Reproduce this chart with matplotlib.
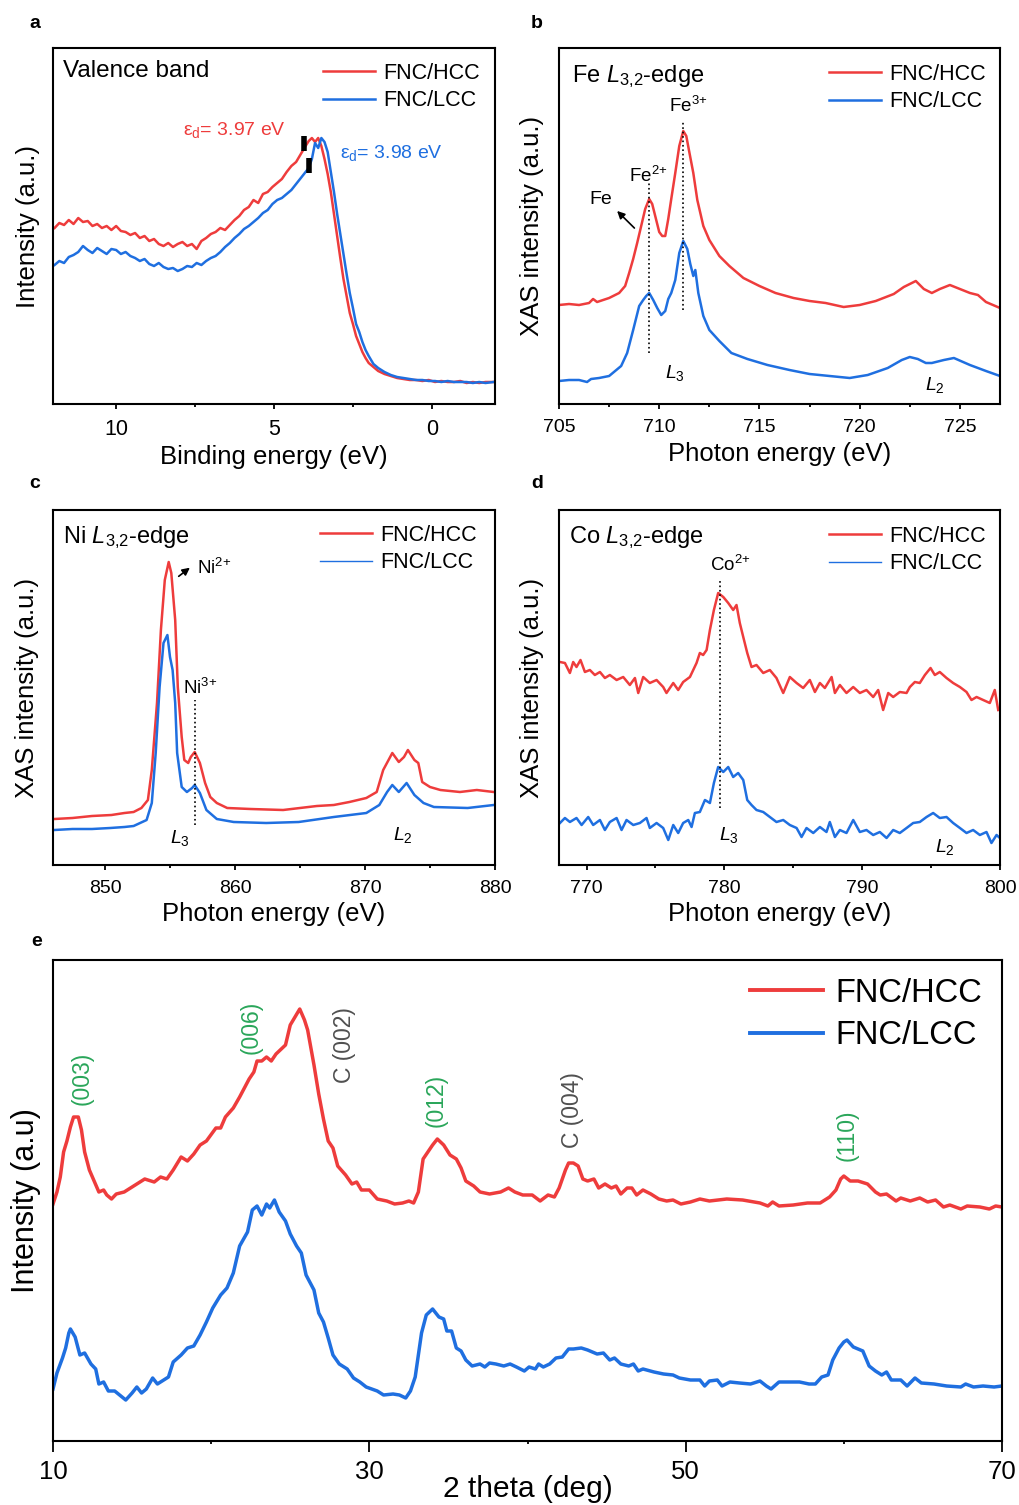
import matplotlib
matplotlib.use('Agg')
import matplotlib.pyplot as plt
from matplotlib.lines import Line2D

plt.rcParams['font.family'] = ['Liberation Sans', 'DejaVu Sans']
plt.rcParams['mathtext.fontset'] = 'custom'
plt.rcParams['mathtext.rm'] = 'Liberation Sans'
plt.rcParams['mathtext.it'] = 'Liberation Sans:italic'
plt.rcParams['mathtext.bf'] = 'Liberation Sans:bold'

RED = '#ee3c3c'
BLUE = '#1f6fe0'
GREEN = '#2aa65a'
GREY = '#505050'
labels = ['FNC/HCC', 'FNC/LCC']

# ---- a: valence band (binding energy, eV) ----
va_x = [11.95, 11.8, 11.65, 11.5, 11.35, 11.2, 11.05, 10.9, 10.75, 10.6,
        10.45, 10.3, 10.15, 10.0, 9.85, 9.7, 9.55, 9.4, 9.25, 9.1,
        8.95, 8.8, 8.65, 8.5, 8.35, 8.2, 8.05, 7.9, 7.75, 7.6,
        7.45, 7.3, 7.15, 7.0, 6.85, 6.7, 6.55, 6.4, 6.25, 6.1,
        5.95, 5.8, 5.65, 5.5, 5.35, 5.2, 5.05, 4.9, 4.75, 4.6,
        4.45, 4.3, 4.15, 4.0, 3.9, 3.8, 3.7, 3.6, 3.5, 3.4,
        3.3, 3.2, 3.1, 3.0, 2.9, 2.8, 2.7, 2.6, 2.5, 2.4,
        2.3, 2.2, 2.1, 2.0, 1.85, 1.7, 1.5, 1.3, 1.1, 0.9,
        0.7, 0.5, 0.3, 0.1, -0.1, -0.3, -0.5, -0.7, -0.9, -1.1,
        -1.3, -1.5, -1.7, -1.95]
va_hcc = [176, 181, 179, 184, 180, 186, 182, 183, 178, 180,
          176, 178, 174, 178, 173, 172, 169, 171, 166, 168,
          163, 165, 160, 158, 161, 157, 160, 162, 158, 160,
          155, 163, 166, 170, 172, 176, 174, 179, 184, 188,
          194, 197, 204, 201, 210, 212, 217, 221, 225, 232,
          238, 242, 250, 258, 263, 266, 262, 266, 258, 245,
          230, 212, 190, 168, 146, 125, 108, 91, 80, 68,
          60, 52, 46, 41, 37, 33, 30, 28, 26, 25,
          24, 24, 23, 24, 22, 23, 22, 22, 23, 21,
          22, 21, 22, 22]
va_lcc = [139, 143, 141, 147, 149, 152, 158, 154, 151, 156,
          153, 150, 155, 154, 150, 152, 148, 146, 143, 145,
          140, 138, 141, 137, 135, 136, 133, 135, 138, 137,
          141, 139, 143, 146, 148, 152, 157, 161, 166, 170,
          175, 178, 182, 186, 191, 194, 200, 204, 206, 210,
          214, 220, 226, 232, 236, 245, 261, 256, 266, 262,
          252, 232, 212, 190, 170, 150, 130, 111, 96, 80,
          72, 62, 54, 48, 40, 36, 32, 29, 27, 26,
          25, 24, 24, 23, 23, 22, 23, 22, 22, 22,
          21, 22, 21, 22]
ed_marks = [(4.05, 253, 268), (3.9, 231, 246)]  # d-band centre markers

# ---- b: Fe L-edge ----
fe_hcc = [(705.0, 99), (705.5, 100), (706.0, 99), (706.5, 101), (706.7, 105), (706.9, 102),
          (707.5, 106), (708.0, 111), (708.3, 118), (708.5, 131), (708.7, 145), (708.9, 161),
          (709.1, 178), (709.3, 195), (709.5, 205), (709.65, 200), (709.8, 188), (710.0, 172),
          (710.15, 168), (710.3, 168), (710.45, 185), (710.6, 205), (710.8, 231), (711.0, 258),
          (711.2, 273), (711.35, 268), (711.5, 252), (711.7, 231), (711.9, 204), (712.2, 178),
          (712.5, 164), (713.0, 148), (713.5, 138), (714.2, 126), (715.0, 118), (715.8, 111),
          (716.7, 106), (717.5, 103), (718.3, 101), (719.2, 97), (720.0, 99), (720.8, 103),
          (721.7, 110), (722.2, 117), (722.6, 121), (722.8, 123), (723.2, 115), (723.6, 111),
          (724.0, 115), (724.5, 119), (725.0, 115), (725.5, 111), (725.9, 109), (726.3, 102),
          (727.0, 96)]
fe_lcc = [(705.0, 23), (705.5, 24), (706.0, 24), (706.4, 22), (706.6, 25), (707.0, 26),
          (707.5, 28), (707.8, 33), (708.1, 38), (708.4, 51), (708.7, 74), (709.0, 98),
          (709.2, 104), (709.35, 108), (709.5, 111), (709.7, 104), (709.9, 96), (710.1, 89),
          (710.3, 93), (710.45, 105), (710.6, 111), (710.8, 124), (711.0, 151), (711.2, 163),
          (711.4, 155), (711.55, 140), (711.7, 128), (711.8, 134), (711.95, 111), (712.2, 88),
          (712.5, 74), (713.0, 63), (713.6, 51), (714.4, 45), (715.4, 39), (716.5, 34),
          (717.5, 30), (718.5, 28), (719.5, 26), (720.4, 29), (721.4, 36), (722.1, 44),
          (722.5, 47), (722.9, 45), (723.3, 41), (723.6, 41), (724.2, 44), (724.7, 46),
          (725.5, 39), (726.3, 33), (727.0, 28)]

# ---- c: Ni L-edge ----
ni_hcc = [(846.1, 46), (847.5, 47), (849.0, 49), (850.5, 50), (851.5, 52), (852.2, 53),
          (852.8, 57), (853.3, 65), (853.6, 95), (854.0, 162), (854.3, 235), (854.6, 285),
          (854.9, 303), (855.1, 292), (855.4, 245), (855.6, 178), (855.9, 128), (856.1, 105),
          (856.4, 102), (856.6, 108), (856.9, 113), (857.3, 102), (857.7, 82), (858.1, 68),
          (858.6, 62), (859.4, 57), (861.2, 56), (863.7, 55), (866.3, 59), (867.6, 60),
          (868.8, 63), (870.1, 67), (870.9, 73), (871.4, 95), (872.1, 112), (872.6, 103),
          (873.0, 108), (873.3, 115), (873.8, 105), (874.1, 102), (874.4, 83), (875.0, 78),
          (875.8, 75), (877.3, 73), (878.6, 75), (879.9, 73)]
ni_lcc = [(846.1, 35), (847.5, 36), (849.0, 36), (850.4, 37), (851.5, 38), (852.2, 39),
          (853.2, 45), (853.6, 62), (853.9, 112), (854.2, 178), (854.5, 222), (854.8, 230),
          (855.0, 208), (855.2, 195), (855.4, 162), (855.55, 112), (855.9, 78), (856.3, 73),
          (856.7, 77), (856.9, 80), (857.3, 72), (857.8, 55), (858.6, 46), (859.9, 43),
          (862.4, 42), (864.9, 43), (867.6, 48), (870.1, 52), (871.1, 60), (871.7, 73),
          (872.1, 80), (872.6, 73), (873.2, 82), (873.8, 70), (874.5, 62), (875.3, 58),
          (877.9, 57), (879.9, 60)]

# ---- d: Co L-edge ----
co_hcc = [(768.07, 203), (768.43, 202), (768.79, 192), (769.03, 203), (769.27, 198), (769.56, 205),
          (769.88, 193), (770.24, 195), (770.6, 190), (770.97, 193), (771.33, 187), (771.69, 190),
          (772.18, 185), (772.66, 188), (773.14, 180), (773.51, 187), (773.75, 172), (774.11, 188),
          (774.59, 182), (775.08, 185), (775.56, 178), (775.8, 172), (776.29, 182), (776.65, 175),
          (777.01, 183), (777.5, 188), (777.74, 195), (777.98, 202), (778.22, 212), (778.46, 210),
          (778.71, 215), (778.95, 235), (779.24, 255), (779.55, 272), (779.92, 268), (780.28, 262),
          (780.64, 255), (780.88, 260), (781.12, 242), (781.37, 228), (781.66, 212), (781.97, 198),
          (782.33, 200), (782.82, 192), (783.3, 195), (783.78, 187), (784.27, 172), (784.75, 188),
          (785.24, 182), (785.72, 177), (786.2, 185), (786.57, 173), (786.93, 182), (787.29, 177),
          (787.78, 188), (788.02, 172), (788.38, 180), (788.86, 172), (789.35, 178), (789.83, 172),
          (790.31, 175), (790.8, 168), (791.16, 175), (791.52, 155), (791.89, 172), (792.25, 168),
          (792.73, 173), (793.22, 172), (793.46, 178), (793.82, 183), (794.18, 182), (794.55, 190),
          (794.96, 197), (795.27, 190), (795.63, 193), (796.12, 187), (796.6, 182), (797.09, 178),
          (797.57, 173), (797.93, 165), (798.3, 168), (798.78, 165), (799.26, 162), (799.62, 175),
          (799.87, 155)]
co_lcc = [(768.07, 42), (768.43, 47), (768.79, 43), (769.27, 47), (769.64, 40), (770.12, 48),
          (770.48, 40), (770.97, 45), (771.33, 35), (771.69, 43), (772.18, 47), (772.54, 35),
          (772.9, 45), (773.39, 40), (773.87, 42), (774.35, 47), (774.59, 37), (775.08, 42),
          (775.56, 37), (775.93, 25), (776.29, 40), (776.65, 32), (777.01, 42), (777.38, 45),
          (777.62, 38), (777.86, 52), (778.22, 53), (778.59, 65), (778.95, 62), (779.24, 82),
          (779.55, 98), (779.92, 93), (780.28, 98), (780.64, 88), (781.0, 92), (781.37, 85),
          (781.66, 65), (781.97, 60), (782.33, 55), (782.82, 53), (783.3, 48), (783.78, 43),
          (784.27, 45), (784.75, 40), (785.24, 37), (785.6, 28), (785.96, 37), (786.45, 32),
          (786.93, 38), (787.41, 33), (787.65, 43), (788.02, 28), (788.38, 35), (788.86, 32),
          (789.35, 45), (789.83, 33), (790.31, 35), (790.8, 30), (791.28, 33), (791.77, 27),
          (792.25, 35), (792.73, 32), (793.22, 37), (793.7, 42), (794.18, 43), (794.67, 48),
          (795.15, 52), (795.63, 47), (796.12, 48), (796.6, 42), (797.09, 37), (797.57, 32),
          (798.05, 35), (798.54, 30), (799.02, 33), (799.38, 22), (799.75, 30), (799.99, 27)]

# ---- e: XRD ----
xrd_hcc = [(10.0, 237), (10.25, 249), (10.46, 264), (10.67, 289), (10.88, 300), (11.1, 314),
           (11.3, 324), (11.6, 324), (11.8, 311), (12.0, 289), (12.3, 271), (12.6, 260),
           (12.9, 249), (13.2, 251), (13.4, 246), (13.7, 242), (14.0, 247), (14.5, 249),
           (14.9, 253), (15.3, 257), (15.8, 262), (16.4, 259), (16.8, 264), (17.2, 262),
           (17.6, 271), (18.1, 284), (18.5, 280), (18.9, 287), (19.3, 296), (19.7, 300),
           (20.3, 313), (20.6, 313), (20.9, 324), (21.4, 333), (21.8, 344), (22.4, 362),
           (22.7, 369), (22.9, 380), (23.2, 380), (23.5, 384), (23.8, 380), (24.1, 387),
           (24.7, 396), (25.0, 416), (25.3, 424), (25.6, 432), (25.9, 421), (26.1, 411),
           (26.5, 376), (26.8, 347), (27.1, 322), (27.4, 300), (27.7, 293), (28.0, 275),
           (28.5, 266), (28.9, 257), (29.2, 259), (29.5, 251), (30.0, 251), (30.5, 242),
           (31.1, 240), (31.6, 237), (32.1, 238), (32.5, 240), (32.8, 238), (33.1, 249),
           (33.4, 282), (33.7, 289), (34.0, 296), (34.3, 302), (34.7, 296), (35.1, 286),
           (35.5, 282), (35.8, 273), (36.1, 260), (36.6, 255), (37.0, 249), (37.6, 247),
           (38.3, 249), (38.8, 253), (39.2, 249), (39.7, 246), (40.3, 246), (40.8, 240),
           (41.3, 246), (41.7, 244), (42.0, 253), (42.4, 271), (42.6, 278), (42.9, 278),
           (43.2, 275), (43.5, 262), (43.8, 260), (44.2, 262), (44.5, 253), (44.9, 257),
           (45.3, 253), (45.6, 255), (45.9, 247), (46.3, 253), (46.6, 253), (46.9, 246),
           (47.3, 251), (47.8, 247), (48.3, 242), (48.8, 240), (49.2, 241), (49.7, 237),
           (50.3, 239), (50.9, 242), (51.5, 240), (52.6, 242), (53.6, 241), (54.7, 238),
           (55.2, 235), (55.5, 239), (55.9, 235), (56.8, 236), (57.7, 238), (58.5, 238),
           (59.1, 244), (59.5, 251), (59.8, 262), (60.0, 265), (60.4, 260), (60.9, 260),
           (61.5, 257), (62.0, 249), (62.3, 246), (62.7, 247), (63.3, 240), (63.6, 243),
           (64.2, 240), (64.8, 243), (65.3, 239), (65.8, 241), (66.3, 234), (66.7, 236),
           (67.4, 232), (67.8, 235), (68.6, 234), (69.2, 232), (69.6, 235), (70.0, 234)]
xrd_lcc = [(10.0, 52), (10.25, 68), (10.6, 83), (10.8, 93), (11.0, 108), (11.1, 112),
           (11.4, 104), (11.7, 86), (12.0, 88), (12.4, 77), (12.7, 72), (12.9, 57),
           (13.2, 59), (13.5, 50), (13.9, 50), (14.6, 41), (15.0, 48), (15.3, 54),
           (15.6, 48), (15.9, 52), (16.3, 63), (16.6, 57), (17.0, 61), (17.3, 64),
           (17.6, 79), (18.1, 86), (18.5, 93), (18.9, 95), (19.3, 106), (19.7, 119),
           (20.1, 133), (20.6, 146), (21.0, 153), (21.4, 168), (21.8, 195), (22.3, 209),
           (22.6, 231), (22.9, 235), (23.2, 226), (23.5, 237), (23.7, 233), (24.0, 241),
           (24.3, 229), (24.7, 220), (25.0, 207), (25.4, 195), (25.7, 188), (26.0, 166),
           (26.5, 151), (26.8, 128), (27.1, 119), (27.4, 103), (27.7, 86), (28.1, 77),
           (28.6, 72), (29.0, 63), (29.4, 59), (29.8, 54), (30.5, 50), (30.9, 46),
           (31.5, 47), (31.9, 46), (32.3, 43), (32.6, 50), (32.9, 64), (33.1, 86),
           (33.3, 108), (33.6, 126), (34.0, 132), (34.4, 124), (34.7, 122), (34.9, 110),
           (35.2, 110), (35.5, 93), (35.8, 90), (36.1, 81), (36.5, 75), (37.0, 77),
           (37.3, 74), (37.6, 78), (38.0, 77), (38.5, 75), (38.9, 77), (39.3, 74),
           (39.8, 70), (40.1, 74), (40.5, 72), (40.7, 77), (41.0, 74), (41.4, 77),
           (41.8, 83), (42.2, 84), (42.6, 92), (42.9, 92), (43.4, 93), (43.8, 91),
           (44.4, 87), (44.8, 88), (45.2, 81), (45.5, 83), (45.9, 77), (46.4, 75),
           (46.7, 77), (47.0, 70), (47.3, 72), (48.0, 69), (48.6, 67), (49.2, 66),
           (49.6, 63), (50.3, 61), (50.9, 61), (51.2, 55), (51.5, 60), (52.0, 61),
           (52.3, 55), (52.8, 59), (53.4, 58), (54.1, 57), (54.7, 60), (55.1, 55),
           (55.4, 52), (55.9, 59), (56.6, 59), (57.2, 59), (57.8, 57), (58.2, 57),
           (58.6, 64), (59.0, 66), (59.3, 81), (59.7, 93), (60.0, 99), (60.2, 101),
           (60.6, 94), (61.2, 90), (61.6, 75), (62.0, 70), (62.4, 66), (62.7, 69),
           (63.0, 61), (63.6, 61), (64.0, 55), (64.5, 63), (64.9, 58), (65.7, 57),
           (66.5, 55), (67.4, 54), (67.7, 57), (68.2, 54), (68.8, 55), (69.5, 54),
           (70.0, 55)]
# rotated reflection labels: (2theta, height, text, colour)
xrd_peaks = [(11.83, 336, '(003)', GREEN), (22.5, 387, '(006)', GREEN),
             (28.4, 358, 'C (002)', GREY), (34.25, 314, '(012)', GREEN),
             (42.85, 293, 'C (004)', GREY), (60.2, 280, '(110)', GREEN)]

W, H = 1020, 1505
fig = plt.figure(figsize=(W / 100, H / 100), dpi=100)


def add_ax(l, t, r, b):
    return fig.add_axes([l / W, 1 - b / H, (r - l) / W, (b - t) / H])


def style(ax, xlim, ylim, major, minor, fs, mlen=3.6, pad=7.5):
    ax.set_xlim(*xlim)
    ax.set_ylim(*ylim)
    ax.set_yticks([])
    ax.set_xticks(major)
    ax.set_xticks(minor, minor=True)
    ax.tick_params(axis='x', which='major', direction='out', length=mlen, width=1.3,
                   labelsize=fs, pad=pad)
    ax.tick_params(axis='x', which='minor', direction='out', length=2.2, width=1.3)
    for s in ax.spines.values():
        s.set_linewidth(1.5)


def xy(pts):
    return [p[0] for p in pts], [p[1] for p in pts]


def legend(ax, anchor, fs=15.5, thin=False, hl=2.4):
    hs = [Line2D([], [], color=RED, lw=1.8),
          Line2D([], [], color=BLUE, lw=1.0 if thin else 1.8)]
    ax.legend(hs, labels, loc='upper right', bbox_to_anchor=anchor, frameon=False,
              fontsize=fs, handlelength=hl, handletextpad=0.4, labelspacing=0.3,
              borderaxespad=0, borderpad=0)


LW = 1.8

# panel a
ax = add_ax(53, 48, 495, 404)
ax.plot(va_x, va_hcc, color=RED, lw=LW)
ax.plot(va_x, va_lcc, color=BLUE, lw=LW)
for x0, y0, y1 in ed_marks:
    ax.plot([x0, x0], [y0, y1], color='k', lw=4, solid_capstyle='butt')
style(ax, (12, -2), (0, 356), [10, 5, 0], [7.5, 2.5], 15.5)
ax.text(7.88, 274, 'ε$_\\mathrm{d}$= 3.97 eV', color=RED, fontsize=14, ha='left', va='center')
ax.text(2.91, 251, 'ε$_\\mathrm{d}$= 3.98 eV', color=BLUE, fontsize=14, ha='left', va='center')
ax.text(0.023, 0.935, 'Valence band', transform=ax.transAxes, fontsize=17.5, va='center')
legend(ax, (0.966, 0.959))
ax.set_xlabel('Binding energy (eV)', fontsize=18.5)
ax.xaxis.set_label_coords(0.5, -0.116)
ax.set_ylabel('Intensity (a.u.)', fontsize=18.5)
ax.yaxis.set_label_coords(-0.029, 0.5)

# panel b
ax = add_ax(559, 48, 1000, 404)
ax.plot(*xy(fe_hcc), color=RED, lw=LW)
ax.plot(*xy(fe_lcc), color=BLUE, lw=LW)
style(ax, (705, 727), (0, 356), [705, 710, 715, 720, 725], [707.5, 712.5, 717.5, 722.5], 14)
ax.plot([709.5, 709.5], [51, 223], color='k', ls=':', lw=1.2)
ax.plot([711.2, 711.2], [94, 283], color='k', ls=':', lw=1.2)
ax.text(711.44, 298, 'Fe$^{3{+}}$', fontsize=13.5, ha='center', va='center')
ax.text(709.45, 228, 'Fe$^{2{+}}$', fontsize=13.5, ha='center', va='center')
ax.text(707.1, 204, 'Fe', fontsize=14, ha='center', va='center')
ax.annotate('', xy=(707.8, 195), xytext=(708.86, 174),
            arrowprops=dict(arrowstyle='-|>', color='k', lw=1.2, mutation_scale=11))
ax.text(710.8, 31, '$L_3$', fontsize=14, ha='center', va='center')
ax.text(723.75, 19, '$L_2$', fontsize=14, ha='center', va='center')
ax.text(0.029, 0.92, 'Fe $L_{3{,}2}$-edge', transform=ax.transAxes, fontsize=17, va='center')
legend(ax, (0.968, 0.955))
ax.set_xlabel('Photon energy (eV)', fontsize=18.5)
ax.xaxis.set_label_coords(0.5, -0.107)
ax.set_ylabel('XAS intensity (a.u.)', fontsize=18.5)
ax.yaxis.set_label_coords(-0.034, 0.5)

# panel c
ax = add_ax(53, 510, 495, 865)
ax.plot(*xy(ni_hcc), color=RED, lw=LW)
ax.plot(*xy(ni_lcc), color=BLUE, lw=LW)
style(ax, (846, 880), (0, 355), [850, 860, 870, 880], [855, 865, 875], 14)
ax.plot([856.9, 856.9], [40, 165], color='k', ls=':', lw=1.2)
ax.annotate('', xy=(856.7, 299), xytext=(855.5, 287),
            arrowprops=dict(arrowstyle='-|>', color='k', lw=1.2, mutation_scale=11))
ax.text(857.1, 297, 'Ni$^{2{+}}$', fontsize=13.5, ha='left', va='center')
ax.text(857.3, 177, 'Ni$^{3{+}}$', fontsize=13.5, ha='center', va='center')
ax.text(855.8, 27, '$L_3$', fontsize=14, ha='center', va='center')
ax.text(872.9, 30, '$L_2$', fontsize=14, ha='center', va='center')
ax.text(0.023, 0.922, 'Ni $L_{3{,}2}$-edge', transform=ax.transAxes, fontsize=17, va='center')
legend(ax, (0.959, 0.958), thin=True)
ax.set_xlabel('Photon energy (eV)', fontsize=18.5)
ax.xaxis.set_label_coords(0.5, -0.104)
ax.set_ylabel('XAS intensity (a.u.)', fontsize=18.5)
ax.yaxis.set_label_coords(-0.032, 0.5)

# panel d
ax = add_ax(559, 510, 1000, 865)
ax.plot(*xy(co_hcc), color=RED, lw=LW)
ax.plot(*xy(co_lcc), color=BLUE, lw=LW)
style(ax, (768, 800), (0, 355), [770, 780, 790, 800], [775, 785, 795], 14)
ax.plot([779.7, 779.7], [57, 285], color='k', ls=':', lw=1.2)
ax.text(780.4, 300, 'Co$^{2{+}}$', fontsize=13.5, ha='center', va='center')
ax.text(780.3, 30, '$L_3$', fontsize=14, ha='center', va='center')
ax.text(796.0, 18, '$L_2$', fontsize=14, ha='center', va='center')
ax.text(0.023, 0.922, 'Co $L_{3{,}2}$-edge', transform=ax.transAxes, fontsize=17, va='center')
legend(ax, (0.968, 0.955), thin=True)
ax.set_xlabel('Photon energy (eV)', fontsize=18.5)
ax.xaxis.set_label_coords(0.5, -0.104)
ax.set_ylabel('XAS intensity (a.u.)', fontsize=18.5)
ax.yaxis.set_label_coords(-0.034, 0.5)

# panel e
ax = add_ax(53, 960, 1002, 1441)
ax.plot(*xy(xrd_hcc), color=RED, lw=2.5)
ax.plot(*xy(xrd_lcc), color=BLUE, lw=2.5)
style(ax, (10, 70), (0, 481), [10, 30, 50, 70], [20, 40, 60], 18.5, mlen=8, pad=6)
for x0, y0, txt, c in xrd_peaks:
    ax.text(x0, y0, txt, color=c, fontsize=16.5, rotation=90, ha='center', va='bottom')
hs = [Line2D([], [], color=RED, lw=2.8), Line2D([], [], color=BLUE, lw=2.8)]
ax.legend(hs, labels, loc='upper right', bbox_to_anchor=(0.979, 0.963), frameon=False,
          fontsize=23.5, handlelength=2.25, handletextpad=0.37, labelspacing=0.35,
          borderaxespad=0, borderpad=0)
ax.set_xlabel('2 theta (deg)', fontsize=21.5)
ax.xaxis.set_label_coords(0.5, -0.07)
ax.set_ylabel('Intensity (a.u)', fontsize=22)
ax.yaxis.set_label_coords(-0.0126, 0.5)

for lab, px, py in [('a', 35, 23), ('b', 537, 23), ('c', 35, 483), ('d', 537, 483), ('e', 37, 942)]:
    fig.text(px / W, 1 - py / H, lab, fontsize=14, fontweight='bold', ha='center', va='center')

fig.savefig('out.png', dpi=100)
